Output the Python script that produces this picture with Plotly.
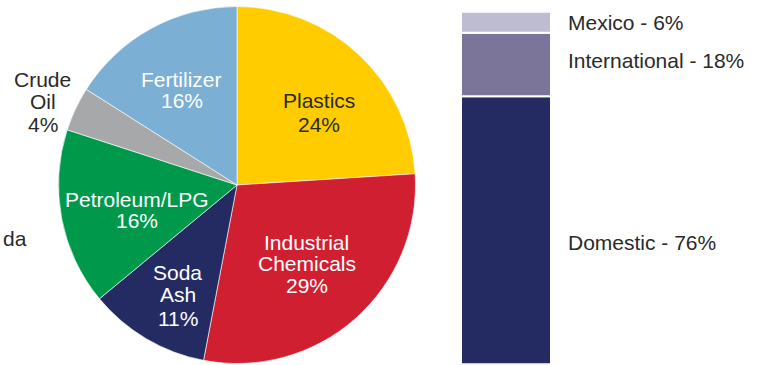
import plotly.graph_objects as go

W, H = 758, 365

# ---- data ----
pie_labels = ["Plastics", "Industrial Chemicals", "Soda Ash", "Petroleum/LPG", "Crude Oil", "Fertilizer"]
pie_values = [24, 29, 11, 16, 4, 16]
pie_colors = ["#FFCC00", "#D11F32", "#242B63", "#00994C", "#A6A8AA", "#7BAFD4"]

bar_labels = ["Domestic", "International", "Mexico"]
bar_values = [76, 18, 6]
bar_colors = ["#242B63", "#7A7599", "#BEBCD0"]

FONT = "Liberation Sans, Arial, Helvetica, sans-serif"
DARK = "#2a2a2a"
FS = 21

def px(x):
    return x / W

def py(y):
    return 1 - y / H

fig = go.Figure()

fig.add_trace(go.Pie(
    labels=pie_labels, values=pie_values, sort=False, direction="clockwise", rotation=0,
    marker=dict(colors=pie_colors, line=dict(color="white", width=0.6)),
    textinfo="none", showlegend=False,
    domain=dict(x=[px(58.5), px(415.5)], y=[py(363.5), py(6.5)]),
))

base = 0
for lab, val, col in zip(bar_labels, bar_values, bar_colors):
    fig.add_trace(go.Bar(
        x=[0], y=[val], base=[base], name=lab, width=1,
        marker=dict(color=col, line=dict(color="white", width=2)),
        xaxis="x", yaxis="y", showlegend=False,
    ))
    base += val

fig.update_layout(
    width=W, height=H, margin=dict(l=0, r=0, t=0, b=0),
    paper_bgcolor="white", plot_bgcolor="rgba(0,0,0,0)",
    barmode="overlay",
    xaxis=dict(domain=[px(461), px(551)], range=[-0.5, 0.5], visible=False, fixedrange=True),
    yaxis=dict(domain=[py(364.3), py(11.7)], range=[0, 100], visible=False, fixedrange=True),
    font=dict(family=FONT),
)

# pie labels: (lines, x center px, list of y centers px, color)
pie_text = [
    (["Plastics", "24%"], 319, [101, 124.5], DARK),
    (["Industrial", "Chemicals", "29%"], 306.5, [242.5, 263.5, 285.5], "white"),
    (["Soda", "Ash", "11%"], 177.5, [272.5, 294.5, 318], "white"),
    (["Petroleum/LPG", "16%"], 137, [199, 220], "white"),
    (["Crude", "Oil", "4%"], 42.5, [79.5, 102, 124.5], DARK),
    (["Fertilizer", "16%"], 181.5, [79.5, 101], "white"),
]
for lines, xc, ys, col in pie_text:
    for t, yc in zip(lines, ys):
        fig.add_annotation(text=t, x=px(xc), y=py(yc), xref="paper", yref="paper",
                           xanchor="center", yanchor="middle", showarrow=False,
                           font=dict(size=FS, color=col, family=FONT))

# bar labels
bar_text = [("Domestic - 76%", 242), ("International - 18%", 61), ("Mexico - 6%", 23)]
for t, yc in bar_text:
    fig.add_annotation(text=t, x=px(566), y=py(yc), xref="paper", yref="paper",
                       xanchor="left", yanchor="middle", showarrow=False,
                       font=dict(size=FS, color=DARK, family=FONT))

# visible fragment of a label cut off by the left edge of the reference
fig.add_annotation(text="da", x=px(0.5), y=py(238), xref="paper", yref="paper",
                   xanchor="left", yanchor="middle", showarrow=False,
                   font=dict(size=FS, color=DARK, family=FONT))

fig.write_html("out.html")
